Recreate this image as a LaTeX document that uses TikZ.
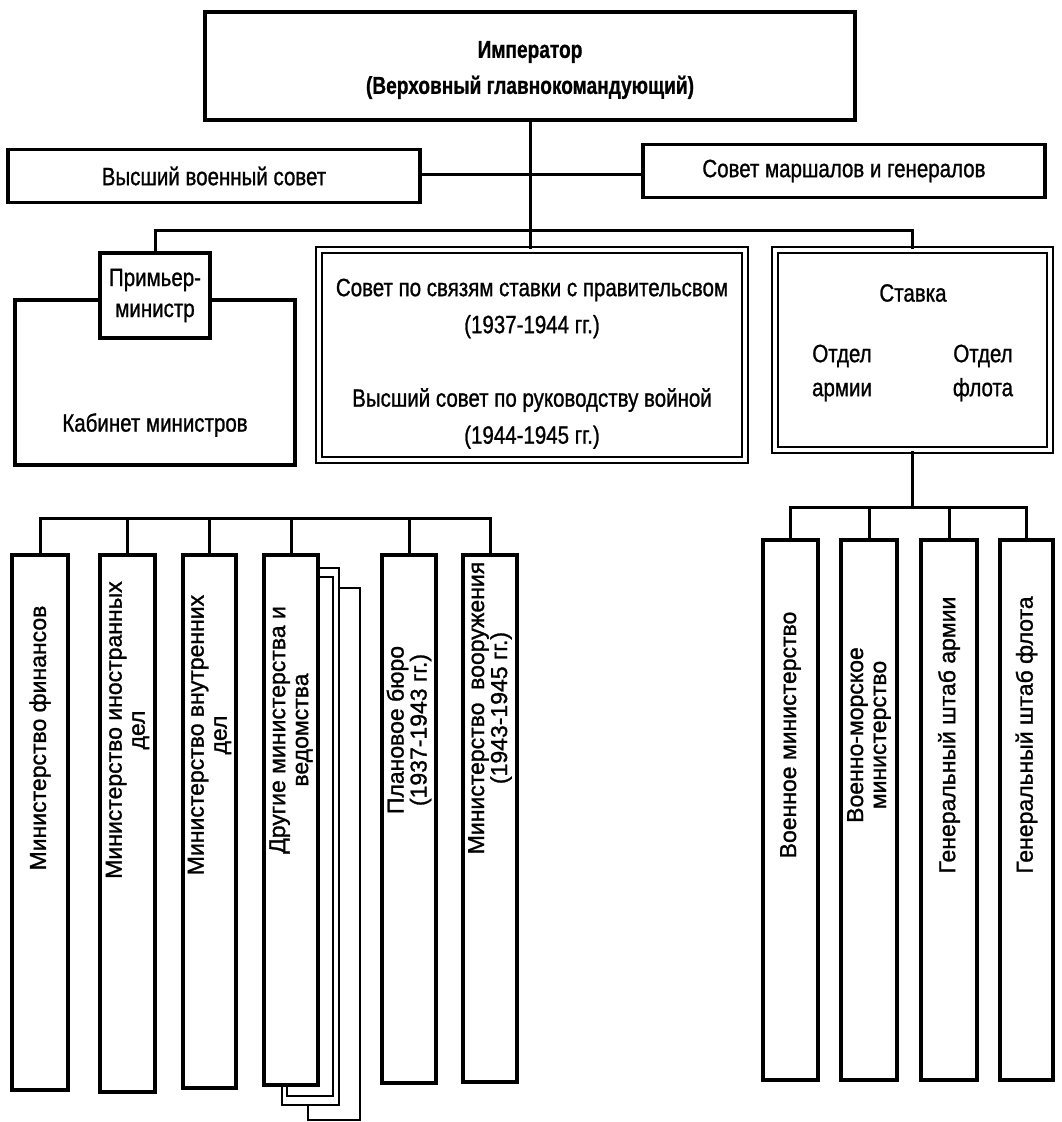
\documentclass[tikz,border=0pt]{standalone}
\usepackage{fontspec}
\setmainfont[FakeBold=1.2]{Liberation Sans}
\newfontfamily\narrowfont[FakeStretch=0.82, FakeBold=1.0]{Liberation Sans}
\newfontfamily\narrowbfont[FakeStretch=0.78, FakeBold=0.8]{Liberation Sans Bold}
\begin{document}
\begin{tikzpicture}[x=1pt,y=-1pt,
  box/.style={draw, line width=3.2pt, fill=white, inner sep=0pt, rectangle},
  dbox/.style={draw, line width=2.4pt, double=white, double distance=3.5pt, inner sep=0pt, rectangle},
  conn/.style={line width=3pt},
  thin/.style={line width=2pt},
  ut/.style={font=\narrowfont\fontsize{25}{31}\selectfont, align=center, inner sep=0pt},
  rt/.style={font=\fontsize{23}{23}\selectfont, rotate=90, align=center, inner sep=0pt}]
\path[use as bounding box, fill=white] (0,0) rectangle (1061,1122);

% top level
\node[box, minimum width=650pt, minimum height=108pt] (emp) at (530,66) {};
\node[align=center, inner sep=0pt, font=\narrowbfont\fontsize{24.5}{36}\selectfont] (empt) at (530,70)
  {Император\\(Верховный главнокомандующий)};
\node[box, minimum width=412pt, minimum height=53pt, ut] (vvs) at (214,176) {Высший военный совет};
\node[box, minimum width=402pt, minimum height=53pt, ut] (smg) at (844,171) {Совет маршалов и генералов};

% second level
\node[box, minimum width=280pt, minimum height=165pt] (kab) at (155,382.5) {};
\node[ut] (kabt) at (155,425) {Кабинет министров};
\node[box, minimum width=110pt, minimum height=85pt, ut] (pm) at (155,295.5) {Примьер-\\министр};
\node[dbox, minimum width=426pt, minimum height=210pt] (mid) at (532,355) {};
\node[ut, font=\narrowfont\fontsize{25}{37}\selectfont] (midt1) at (532,308.5) {Совет по связям ставки с правительсвом\\(1937-1944 гг.)};
\node[ut, font=\narrowfont\fontsize{25}{37}\selectfont] (midt2) at (532,418.5) {Высший совет по руководству войной\\(1944-1945 гг.)};
\node[dbox, minimum width=275pt, minimum height=200pt] (stv) at (912.5,350) {};
\node[ut] (stvt) at (913,293) {Ставка};
\node[ut, font=\narrowfont\fontsize{25}{34}\selectfont] (ota) at (842,373) {Отдел\\армии};
\node[ut, font=\narrowfont\fontsize{25}{34}\selectfont] (otf) at (983,373) {Отдел\\флота};

% connectors top
\coordinate (vline) at (530,174);
\coordinate (brl) at (155,230);
\draw[conn] (emp.south) -- (emp.south |- mid.north);
\draw[conn] (vvs.east |- vline) -- (smg.west |- vline);
\draw[conn] (pm.north) -- (pm.north |- brl) -- (stv.north |- brl) -- (stv.north);

% left ministries
\node[box, minimum width=56pt, minimum height=535pt] (f1) at (40,822.5) {};
\node[box, minimum width=55pt, minimum height=537pt] (f2) at (127.5,823.5) {};
\node[box, minimum width=53pt, minimum height=533pt] (f3) at (209.5,821.5) {};
\node[box, minimum width=54pt, minimum height=530pt] (f4) at (291,820) {};
\node[box, minimum width=54pt, minimum height=528pt] (f5) at (409,819) {};
\node[box, minimum width=54pt, minimum height=527pt] (f6) at (490,818.5) {};
\node[rt] (f1t) at (40,738) {Министерство финансов};
\node[rt] (f2t) at (127.5,730) {Министерство иностранных\\дел};
\node[rt] (f3t) at (209.5,735) {Министерство внутренних\\дел};
\node[rt] (f4t) at (291,730) {Другие министерства и\\ведомства};
\node[rt] (f5t) at (409,730) {Плановое бюро\\(1937-1943 гг.)};
\node[rt] (f6t) at (490,708) {Министерство\ \ вооружения\\(1943-1945 гг.)};
\coordinate (hl) at (0,518);
\draw[conn] (f1.north) -- (f1.north |- hl) -- (f6.north |- hl) -- (f6.north);
\foreach \n in {f2,f3,f4,f5} \draw[conn] (\n.north) -- (\n.north |- hl);

% stacked outlines behind "Другие министерства"
\coordinate (s1a) at (339,568);
\coordinate (s1b) at (282,1105);
\coordinate (s2a) at (333,577);
\coordinate (s2b) at (287,1096);
\draw[thin] (f4.east |- s1a) -- (s1a) -- (s1a |- s1b) -- (s1b) -- (s1b |- f4.south);
\draw[thin] (f4.east |- s2a) -- (s2a) -- (s2a |- s2b) -- (s2b) -- (s2b |- f4.south);
\coordinate (lp1) at (308,1120);
\coordinate (lp2) at (360,588);
\draw[thin] (lp1 |- s1b) -- (lp1) -- (lp2 |- lp1) -- (lp2) -- (s1a |- lp2);

% right side
\node[box, minimum width=55pt, minimum height=540pt] (r1) at (790.5,810) {};
\node[box, minimum width=56pt, minimum height=540pt] (r2) at (869,810) {};
\node[box, minimum width=56pt, minimum height=540pt] (r3) at (949,810) {};
\node[box, minimum width=53pt, minimum height=540pt] (r4) at (1026.5,810) {};
\node[rt] (r1t) at (790.5,735) {Военное министерство};
\node[rt] (r2t) at (869,735) {Военно-морское\\министерство};
\node[rt] (r3t) at (949,735) {Генеральный штаб армии};
\node[rt] (r4t) at (1026.5,735) {Генеральный штаб флота};
\coordinate (hr) at (0,507);
\draw[conn] (stv.south) -- (stv.south |- hr);
\draw[conn] (r1.north) -- (r1.north |- hr) -- (r4.north |- hr) -- (r4.north);
\foreach \n in {r2,r3} \draw[conn] (\n.north) -- (\n.north |- hr);
\end{tikzpicture}
\end{document}
